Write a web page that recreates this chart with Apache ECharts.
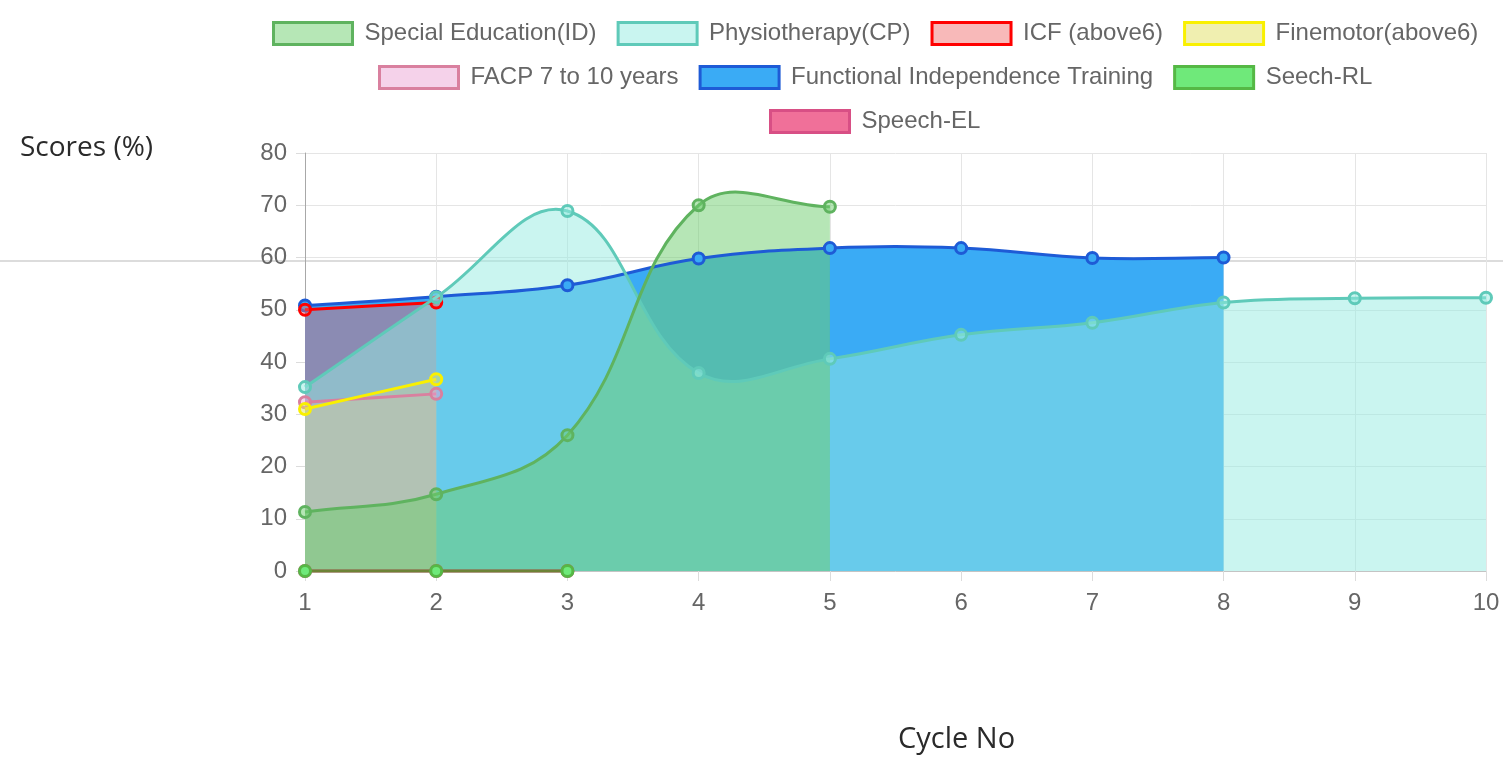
<!DOCTYPE html>
<html>
<head>
<meta charset="utf-8">
<script src="https://cdn.jsdelivr.net/npm/echarts@6/dist/echarts.min.js"></script>
<style>
html,body{margin:0;padding:0;background:#fff;overflow:hidden;}
#chart{width:1503px;height:759px;}
</style>
</head>
<body>
<div id="chart"></div>
<script>
// ---- data ----
const cycles = ['1','2','3','4','5','6','7','8','9','10'];
const seriesNames = ['Special Education(ID)','Physiotherapy(CP)','ICF (above6)','Finemotor(above6)','FACP 7 to 10 years','Functional Independence Training','Seech-RL','Speech-EL'];
const specialEd = [11.3, 14.7, 26.0, 70.0, 69.7];
const physio = [35.2, 52.4, 68.9, 37.9, 40.6, 45.2, 47.5, 51.4, 52.2, 52.3];
const icf = [50.0, 51.4];
const finemotor = [31.0, 36.7];
const facp = [32.3, 33.9];
const fit = [50.8, 52.5, 54.7, 59.8, 61.8, 61.8, 59.9, 60.0];
const speechRL = [0, 0, 0];
const speechEL = [0, 0, 0];

// ---- styles ----
const values = [specialEd, physio, icf, finemotor, facp, fit, speechRL, speechEL];
const fills = ['rgba(110,205,110,0.5)','rgba(150,235,225,0.5)','rgba(240,100,100,0.45)','rgba(225,225,100,0.5)','rgba(235,160,210,0.45)','rgb(58,171,245)','rgb(110,233,122)','rgb(240,112,153)'];
const legendFills = ['#b6e7b6','#c9f5f0','#f8b9b9','#f0efb0','#f5d2ea','#3aabf5','#6fe97a','#f07099'];
const borders = ['#5fb35f','#5fcab9','#ff0000','#f9f000','#d9809f','#1e5bd6','#55b845','#d84f85'];
const lineColors = ['#5fb35f','#5fcab9','#ff0000','#f9f000','#d9809f','#1e5bd6','rgba(90,140,40,0.85)','#d84f85'];
const tension = 0.4;
const font = 'Liberation Sans, Arial, sans-serif';

// Chart.js-like cardinal spline in pixel space
function splinePath(pts, area, closeY) {
  const n = pts.length;
  const cps = pts.map((cur, i) => {
    const prev = pts[i - 1] || cur, next = pts[i + 1] || cur;
    const d01 = Math.hypot(cur[0] - prev[0], cur[1] - prev[1]);
    const d12 = Math.hypot(next[0] - cur[0], next[1] - cur[1]);
    let s01 = d01 / (d01 + d12), s12 = d12 / (d01 + d12);
    if (isNaN(s01)) s01 = 0; if (isNaN(s12)) s12 = 0;
    const fa = tension * s01, fb = tension * s12;
    const cap = p => [Math.max(area.x, Math.min(area.x + area.width, p[0])), Math.max(area.y, Math.min(area.y + area.height, p[1]))];
    return {
      prev: cap([cur[0] - fa * (next[0] - prev[0]), cur[1] - fa * (next[1] - prev[1])]),
      next: cap([cur[0] + fb * (next[0] - prev[0]), cur[1] + fb * (next[1] - prev[1])])
    };
  });
  let d = 'M' + pts[0][0] + ',' + pts[0][1];
  for (let i = 1; i < n; i++) {
    d += ' C' + cps[i - 1].next[0] + ',' + cps[i - 1].next[1] + ' ' + cps[i].prev[0] + ',' + cps[i].prev[1] + ' ' + pts[i][0] + ',' + pts[i][1];
  }
  if (closeY !== undefined) {
    d += ' L' + pts[n - 1][0] + ',' + closeY + ' L' + pts[0][0] + ',' + closeY + ' Z';
  }
  return d;
}

function makeSeries(k, kind) {
  const data = values[k].map((v, i) => [i, v]);
  return {
    name: seriesNames[k], type: 'custom', z: kind === 'area' ? 1 : 2,
    clip: false, silent: true,
    itemStyle: {color: legendFills[k], borderColor: borders[k]},
    data: data,
    encode: {x: 0, y: 1},
    renderItem: function (params, api) {
      const idx = params.dataIndex;
      const pts = data.map(d => api.coord(d));
      const area = params.coordSys;
      if (kind === 'area') {
        if (idx !== 0) return null;
        const y0 = api.coord([0, 0])[1];
        return {type: 'path', shape: {pathData: splinePath(pts, area, y0)}, style: {fill: fills[k], stroke: null}};
      }
      const circle = {type: 'circle', shape: {cx: pts[idx][0], cy: pts[idx][1], r: 5.5}, style: {fill: fills[k], stroke: borders[k], lineWidth: 3}};
      if (idx !== 0) return circle;
      return {type: 'group', children: [
        {type: 'path', shape: {pathData: splinePath(pts, area)}, style: {fill: null, stroke: lineColors[k], lineWidth: 3}},
        circle
      ]};
    }
  };
}

const areaSeries = [], lineSeries = [];
for (let k = seriesNames.length - 1; k >= 0; k--) {
  areaSeries.push(makeSeries(k, 'area'));
  lineSeries.push(makeSeries(k, 'line'));
}

const legendFont = {fontFamily: font, fontSize: 24, color: '#666', padding: [0,0,0,7]};
function legendItems(names) {
  return names.map(n => {
    const i = seriesNames.indexOf(n);
    return {name: n, itemStyle: {color: legendFills[i], borderColor: borders[i], borderWidth: 3}};
  });
}
const legendCommon = {icon: 'rect', itemWidth: 79, itemHeight: 22, itemGap: 20, textStyle: legendFont, padding: 0};

const chart = echarts.init(document.getElementById('chart'));
chart.setOption({
  animation: false,
  title: [
    {text: 'Scores (%)', left: 15, top: 129, textStyle: {fontFamily: 'Open Sans', fontWeight: 'normal', fontSize: 28, color: '#2a2a2a'}},
    {text: 'Cycle No', left: 893, top: 720, textStyle: {fontFamily: 'Open Sans', fontWeight: 'normal', fontSize: 29, color: '#2a2a2a'}}
  ],
  legend: [
    Object.assign({data: legendItems(seriesNames.slice(0,4)), left: 272, top: 21}, legendCommon),
    Object.assign({data: legendItems(seriesNames.slice(4,7)), left: 378, top: 65}, legendCommon),
    Object.assign({data: legendItems(seriesNames.slice(7)), left: 769, top: 109}, legendCommon)
  ],
  graphic: [{type: 'line', z: 0, silent: true, shape: {x1: 0, y1: 261, x2: 1503, y2: 261}, style: {stroke: '#dcdcdc', lineWidth: 2}}],
  grid: {left: 305, right: 17, top: 153, bottom: 188, containLabel: false},
  xAxis: {
    type: 'category', data: cycles, boundaryGap: false,
    axisLine: {show: true, lineStyle: {color: '#c4c4c4', width: 1}},
    axisTick: {show: true, length: 10, lineStyle: {color: '#dcdcdc'}},
    axisLabel: {color: '#666', fontSize: 24, fontFamily: font, margin: 20},
    splitLine: {show: true, lineStyle: {color: '#e5e5e5', width: 1}}
  },
  yAxis: {
    type: 'value', min: 0, max: 80, interval: 10,
    axisLine: {show: true, lineStyle: {color: '#a8a8a8', width: 1}},
    axisTick: {show: true, length: 9, lineStyle: {color: '#dcdcdc'}},
    axisLabel: {color: '#666', fontSize: 24, fontFamily: font, margin: 18},
    splitLine: {show: true, lineStyle: {color: '#e5e5e5', width: 1}}
  },
  series: areaSeries.concat(lineSeries)
});
</script>
</body>
</html>
